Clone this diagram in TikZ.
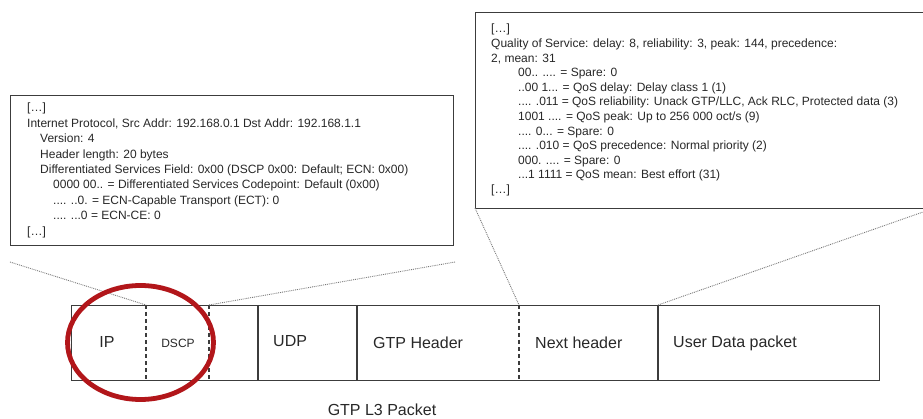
\documentclass[tikz,border=0pt]{standalone}
\usepackage{fontspec}
\setmainfont{Liberation Sans}
\definecolor{ink}{RGB}{40,40,40}
\definecolor{boxline}{RGB}{60,60,60}
\definecolor{ringred}{RGB}{178,22,26}
\definecolor{dotgray}{RGB}{120,120,120}
\newcommand{\elide}{{[…]}}
\begin{document}
\begin{tikzpicture}[x=1pt,y=-1pt,
  infobox/.style={draw=boxline,line width=1.4pt,fill=white},
  infotext/.style={anchor=north west,inner sep=0pt,align=left,text=ink,font=\fontsize{12}{15.4}\selectfont},
  pktline/.style={draw=boxline,line width=1.1pt},
  pktdash/.style={draw=boxline,line width=1.1pt,dash pattern=on 4pt off 3pt},
  pktlabel/.style={anchor=west,inner sep=0pt,text=ink,font=\fontsize{16}{18}\selectfont},
  zoomline/.style={draw=dotgray,line width=0.9pt,densely dotted},
  ring/.style={draw=ringred,line width=4.8pt}]
\useasboundingbox (0,0) rectangle (923,419);

% packet
\node[pktline,minimum width=808pt,minimum height=75pt,anchor=north west,inner sep=0pt] (pkt) at (71,305) {};
\coordinate (d1t) at (146,305); \coordinate (d1b) at (146,380);
\coordinate (d2t) at (209,305); \coordinate (d2b) at (209,380);
\coordinate (s1t) at (258,305); \coordinate (s1b) at (258,380);
\coordinate (s2t) at (357,305); \coordinate (s2b) at (357,380);
\coordinate (d3t) at (519,305); \coordinate (d3b) at (519,380);
\coordinate (s3t) at (658,305); \coordinate (s3b) at (658,380);
\draw[pktdash] (d1t) -- (d1b);
\draw[pktdash] (d2t) -- (d2b);
\draw[pktline] (s1t) -- (s1b);
\draw[pktline] (s2t) -- (s2b);
\draw[pktdash] (d3t) -- (d3b);
\draw[pktline] (s3t) -- (s3b);

\node[anchor=center,inner sep=0pt,text=ink,font=\fontsize{16}{18}\selectfont] (ip) at (107,342) {IP};
\node[anchor=center,inner sep=0pt,text=ink,font=\fontsize{12}{13}\selectfont] (dscp) at (178,343) {DSCP};
\node[pktlabel] (udp) at (273,341) {UDP};
\node[pktlabel] (gtph) at (373,343) {GTP Header};
\node[pktlabel] (nexth) at (535,343) {Next header};
\node[pktlabel] (udata) at (673,343) {User Data packet};
\node[anchor=center,inner sep=0pt,text=ink,font=\fontsize{16}{18}\selectfont] (cap) at (382,410) {GTP L3 Packet};

% left info box
\node[infobox,minimum width=443pt,minimum height=150pt,anchor=north west,inner sep=0pt] (ipbox) at (10,95) {};
\node[infotext] (iptext) at (27,103) {\elide\\
Internet Protocol, Src Addr: 192.168.0.1 Dst Addr: 192.168.1.1\\
\hspace*{13pt}Version: 4\\
\hspace*{13pt}Header length: 20 bytes\\
\hspace*{13pt}Differentiated Services Field: 0x00 (DSCP 0x00: Default; ECN: 0x00)\\
\hspace*{26pt}0000 00.. = Differentiated Services Codepoint: Default (0x00)\\
\hspace*{26pt}.... ..0. = ECN-Capable Transport (ECT): 0\\
\hspace*{26pt}.... ...0 = ECN-CE: 0\\
\elide};

% right info box
\node[infobox,minimum width=450pt,minimum height=196pt,anchor=north west,inner sep=0pt] (qosbox) at (475,12) {};
\node[infotext,font=\fontsize{12}{14.6}\selectfont] (qostext) at (491,24) {\elide\\
Quality of Service: delay: 8, reliability: 3, peak: 144, precedence:\\
2, mean: 31\\
\hspace*{27pt}00.. .... = Spare: 0\\
\hspace*{27pt}..00 1... = QoS delay: Delay class 1 (1)\\
\hspace*{27pt}.... .011 = QoS reliability: Unack GTP/LLC, Ack RLC, Protected data (3)\\
\hspace*{27pt}1001 .... = QoS peak: Up to 256 000 oct/s (9)\\
\hspace*{27pt}.... 0... = Spare: 0\\
\hspace*{27pt}.... .010 = QoS precedence: Normal priority (2)\\
\hspace*{27pt}000. .... = Spare: 0\\
\hspace*{27pt}...1 1111 = QoS mean: Best effort (31)\\
\elide};

% zoom connectors
\coordinate (lz1) at (10,262);
\coordinate (lz2) at (455,262);
\coordinate (rz1) at (475,208);
\coordinate (rz2) at (923,212);
\draw[zoomline] (lz1) -- (d1t);
\draw[zoomline] (d2t) -- (lz2);
\draw[zoomline] (rz1) -- (d3t);
\draw[zoomline] (s3t) -- (rz2);

% red ring
\draw[ring] (140.5,342.5) ellipse [x radius=73, y radius=57];
\end{tikzpicture}
\end{document}
